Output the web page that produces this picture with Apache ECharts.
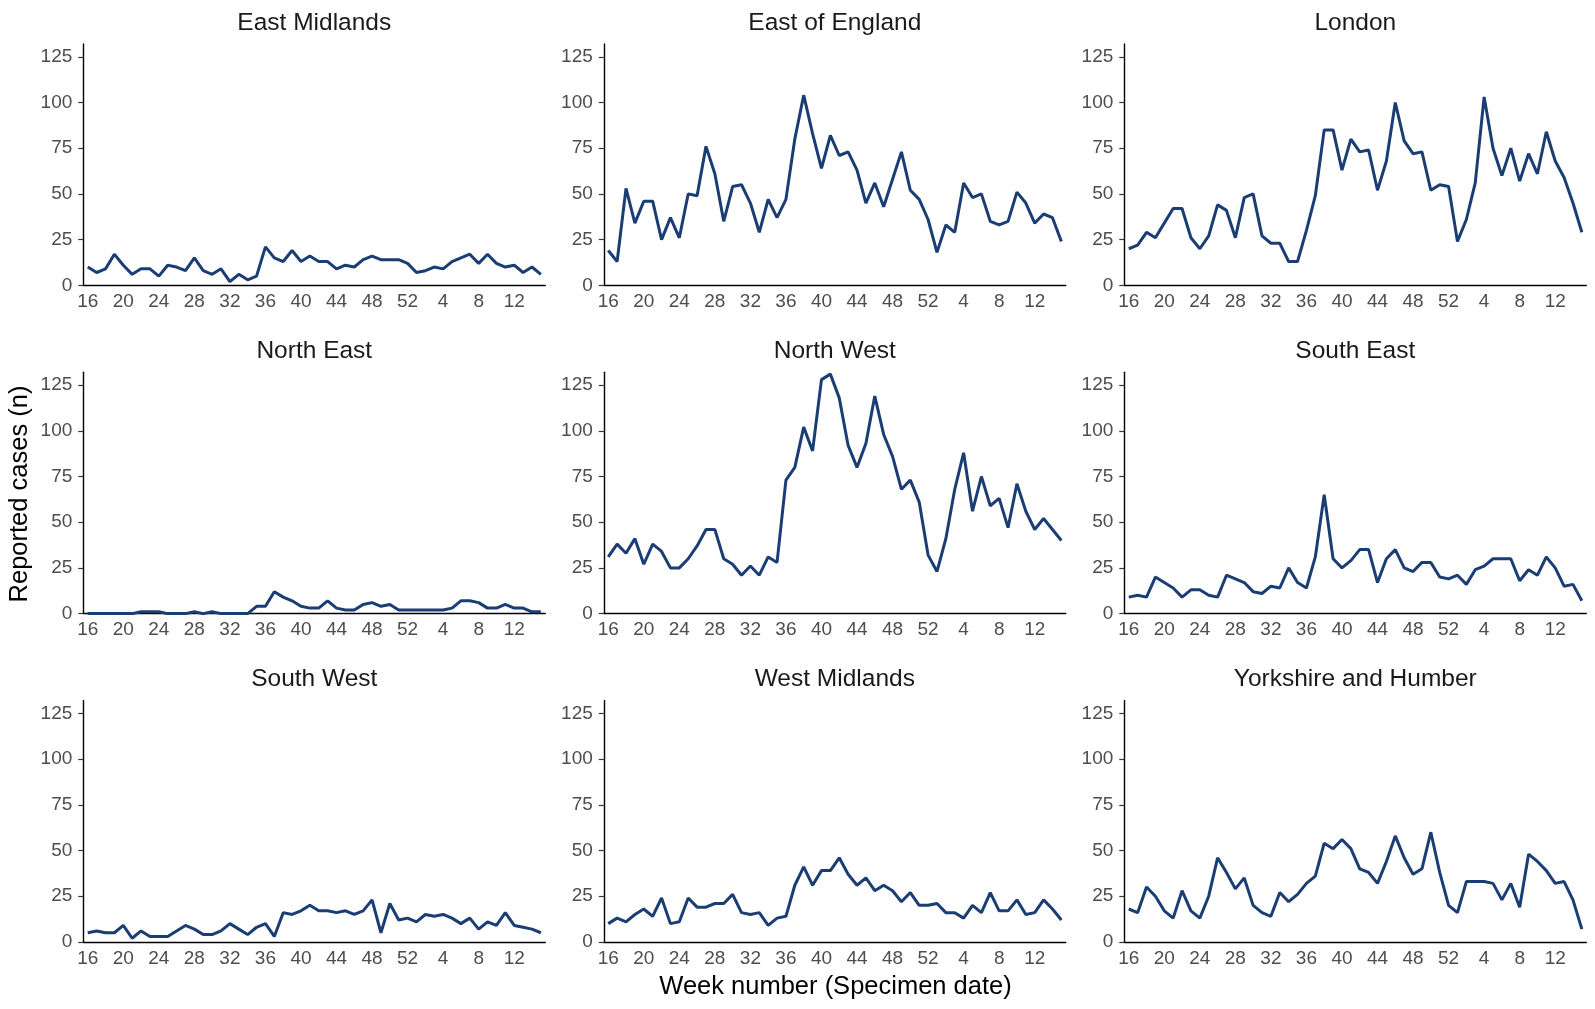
<!DOCTYPE html>
<html>
<head>
<meta charset="utf-8">
<title>Reported cases by region</title>
<script src="https://cdn.jsdelivr.net/npm/echarts@6/dist/echarts.min.js"></script>
<style>
  html, body { margin: 0; padding: 0; background: #fff; }
  #chartMain { width: 1595px; height: 1009px; }
</style>
</head>
<body>
<div id="chartMain"></div>
<script>
// week numbers, 2020 wk16 .. 2021 wk15
var weeks = ['16','17','18','19','20','21','22','23','24','25','26','27','28','29','30','31','32','33','34','35',
  '36','37','38','39','40','41','42','43','44','45','46','47','48','49','50','51','52',
  '1','2','3','4','5','6','7','8','9','10','11','12','13','14','15'];

var regions = ['East Midlands','East of England','London','North East','North West','South East',
  'South West','West Midlands','Yorkshire and Humber'];

var yTicks = [0, 25, 50, 75, 100, 125];

var eastMidlands = [10,7,9,17,11,6,9,9,5,11,10,8,15,8,6,9,2,6,3,5,21,15,13,19,13,16,13,13,9,11,10,14,16,14,14,14,12,7,8,10,9,13,15,17,12,17,12,10,11,7,10,6];
var eastOfEngland = [19,13,53,34,46,46,25,37,26,50,49,76,61,35,54,55,45,29,47,37,47,80,104,83,64,82,71,73,63,45,56,43,58,73,52,47,36,18,33,29,56,48,50,35,33,35,51,45,34,39,37,24];
var london = [20,22,29,26,34,42,42,26,20,27,44,41,26,48,50,27,23,23,13,13,30,49,85,85,63,80,73,74,52,68,100,79,72,73,52,55,54,24,36,56,103,75,60,75,57,72,61,84,68,59,45,29];
var northEast = [0,0,0,0,0,0,1,1,1,0,0,0,1,0,1,0,0,0,0,4,4,12,9,7,4,3,3,7,3,2,2,5,6,4,5,2,2,2,2,2,2,3,7,7,6,3,3,5,3,3,1,1];
var northWest = [31,38,33,41,27,38,34,25,25,30,37,46,46,30,27,21,26,21,31,28,73,80,102,89,128,131,118,92,80,93,119,98,86,68,73,61,32,23,41,68,88,56,75,59,63,47,71,56,46,52,46,40];
var southEast = [9,10,9,20,17,14,9,13,13,10,9,21,19,17,12,11,15,14,25,17,14,31,65,30,25,29,35,35,17,30,35,25,23,28,28,20,19,21,16,24,26,30,30,30,18,24,21,31,25,15,16,7];
var southWest = [5,6,5,5,9,2,6,3,3,3,6,9,7,4,4,6,10,7,4,8,10,3,16,15,17,20,17,17,16,17,15,17,23,5,21,12,13,11,15,14,15,13,10,13,7,11,9,16,9,8,7,5];
var westMidlands = [10,13,11,15,18,14,24,10,11,24,19,19,21,21,26,16,15,16,9,13,14,31,41,31,39,39,46,37,31,35,28,31,28,22,27,20,20,21,16,16,13,20,16,27,17,17,23,15,16,23,18,12];
var yorkshire = [18,16,30,25,17,13,28,17,13,25,46,38,29,35,20,16,14,27,22,26,32,36,54,51,56,51,40,38,32,44,58,46,37,40,60,38,20,16,33,33,33,32,23,32,19,48,44,39,32,33,23,7];

var seriesData = [eastMidlands, eastOfEngland, london, northEast, northWest, southEast, southWest, westMidlands, yorkshire];

var FONT = '"Liberation Sans", Arial, sans-serif';
var LINE_COLOR = '#1a3d73';

// panel layout (px)
var panelLeft = 83.3, panelStepX = 520.5, panelW = 462;
var panelTop = 44, panelStepY = 328.3, panelH = 241.3;

function buildOption() {
  var grids = [], xAxes = [], yAxes = [], series = [], texts = [];

  for (var i = 0; i < regions.length; i++) {
    var row = Math.floor(i / 3);
    var col = i % 3;
    var gLeft = panelLeft + col * panelStepX;
    var gTop = panelTop + row * panelStepY;

    grids.push({ left: gLeft, top: gTop, width: panelW, height: panelH });

    xAxes.push({
      type: 'category',
      gridIndex: i,
      data: weeks,
      boundaryGap: true,
      axisLine: { lineStyle: { color: '#000', width: 1.4 } },
      axisTick: { interval: 3, alignWithLabel: true, length: 5, lineStyle: { color: '#333', width: 1.2 } },
      axisLabel: { interval: 3, margin: 7, color: '#4d4d4d', fontSize: 19, fontFamily: FONT },
      splitLine: { show: false }
    });

    yAxes.push({
      type: 'value',
      gridIndex: i,
      min: 0,
      max: 132,
      interval: 25,
      axisLine: { show: true, lineStyle: { color: '#000', width: 1.4 } },
      axisTick: { show: true, length: 5, customValues: yTicks, lineStyle: { color: '#333', width: 1.2 } },
      axisLabel: { margin: 11, color: '#4d4d4d', fontSize: 19, fontFamily: FONT, customValues: yTicks },
      splitLine: { show: false }
    });

    series.push({
      name: regions[i],
      type: 'line',
      xAxisIndex: i,
      yAxisIndex: i,
      data: seriesData[i],
      showSymbol: false,
      lineStyle: { color: LINE_COLOR, width: 3 }
    });

    // facet strip title
    texts.push({
      type: 'text',
      x: gLeft + panelW / 2,
      y: gTop - 21,
      style: {
        text: regions[i],
        textAlign: 'center',
        textVerticalAlign: 'middle',
        fill: '#1a1a1a',
        font: '24.5px ' + FONT
      }
    });
  }

  // axis titles
  texts.push({
    type: 'text',
    x: 835.5,
    y: 987,
    style: { text: 'Week number (Specimen date)', textAlign: 'center', textVerticalAlign: 'middle', fill: '#000', font: '25.5px ' + FONT }
  });
  texts.push({
    type: 'text',
    x: 20,
    y: 494,
    rotation: Math.PI / 2,
    style: { text: 'Reported cases (n)', textAlign: 'center', textVerticalAlign: 'middle', fill: '#000', font: '25.5px ' + FONT }
  });

  return {
    backgroundColor: '#fff',
    animation: false,
    grid: grids,
    xAxis: xAxes,
    yAxis: yAxes,
    series: series,
    graphic: { elements: texts }
  };
}

var myChart = echarts.init(document.getElementById('chartMain'));
myChart.setOption(buildOption());
</script>
</body>
</html>
